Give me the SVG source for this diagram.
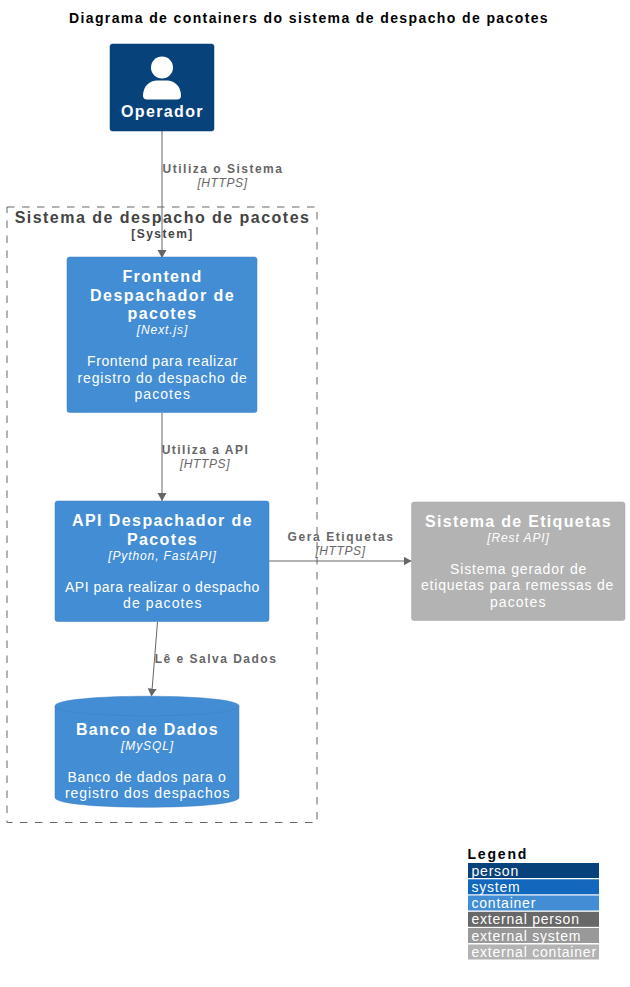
<svg xmlns="http://www.w3.org/2000/svg" width="630" height="987" viewBox="0 0 630 987">
<style>
text{font-family:"Liberation Sans",Arial,sans-serif;text-anchor:middle}
.title{font-size:14px;font-weight:700;fill:#000;letter-spacing:1.39px}
.nt{font-size:16px;font-weight:700;fill:#fff;letter-spacing:1.35px}
.nd{font-size:14px;fill:#fff;letter-spacing:.6px}
.nk{font-size:12px;font-style:italic;fill:#fff;letter-spacing:.9px}
.el{font-size:12px;font-weight:700;fill:#666;letter-spacing:1.5px}
.ek{font-size:12px;font-style:italic;fill:#666;letter-spacing:.6px}
.lg{font-size:14px;fill:#fff;letter-spacing:.78px;text-anchor:start}
.box{stroke:#3c7fc0;stroke-width:.5}
.edge{fill:none;stroke:#666;stroke-width:1}
</style>
<defs><marker id="a" markerUnits="userSpaceOnUse" markerWidth="9" markerHeight="10" refX="8" refY="4.5" orient="auto"><path d="M0 0L8 4.5L0 9z" fill="#666"/></marker></defs>
<text class="title" x="309" y="23">Diagrama de containers do sistema de despacho de pacotes</text>
<g id="boundary">
<rect x="7" y="207" width="310" height="615.500" fill="none" stroke="#666" stroke-width="1" stroke-dasharray="7.500 7.500"/>
<text x="162.500" y="223" style="font-size:16px;font-weight:700;fill:#444;letter-spacing:1.470px">Sistema de despacho de pacotes</text>
<text x="162.500" y="238" style="font-size:12px;font-weight:700;fill:#444;letter-spacing:1.500px">[System]</text>
</g>
<g id="connectors">
<path class="edge" d="M162 131V258" marker-end="url(#a)"/>
<text class="el" x="223" y="173">Utiliza o Sistema</text>
<text class="ek" x="222.500" y="187">[HTTPS]</text>
<path class="edge" d="M162 413V501" marker-end="url(#a)"/>
<text class="el" x="205.500" y="454">Utiliza a API</text>
<text class="ek" x="205" y="468">[HTTPS]</text>
<path class="edge" d="M269 561H411.500" marker-end="url(#a)"/>
<text class="el" x="341" y="541" textLength="107">Gera Etiquetas</text>
<text class="ek" x="340.500" y="555">[HTTPS]</text>
<path class="edge" d="M157.500 622L151.500 696.500" marker-end="url(#a)"/>
<text class="el" x="216" y="663">Lê e Salva Dados</text>
</g>
<g id="operador">
<rect x="110" y="44" width="104" height="87" rx="2.500" fill="#08427b" stroke="#073b6f" stroke-width=".5"/>
<circle cx="162" cy="67.500" r="11" fill="#fff"/>
<path d="M143 95.500C143 86 150 80.500 157 80.500H167C174 80.500 181 86 181 95.500Q181 99.500 177 99.500H147Q143 99.500 143 95.500Z" fill="#fff"/>
<text class="nt" x="162.500" y="117">Operador</text>
</g>
<g id="frontend">
<rect class="box" x="67" y="257" width="190" height="155.500" rx="2.500" fill="#438dd5"/>
<text class="nt" x="162.500" y="282">Frontend</text>
<text class="nt" x="162.500" y="301" textLength="145">Despachador de</text>
<text class="nt" x="162.500" y="319">pacotes</text>
<text class="nk" x="162.500" y="334">[Next.js]</text>
<text class="nd" x="162.500" y="366" textLength="151">Frontend para realizar</text>
<text class="nd" x="162.500" y="383" textLength="170">registro do despacho de</text>
<text class="nd" x="162.500" y="399" textLength="56">pacotes</text>
</g>
<g id="api">
<rect class="box" x="55" y="501" width="214" height="120.500" rx="2.500" fill="#438dd5"/>
<text class="nt" x="162.500" y="526" textLength="181">API Despachador de</text>
<text class="nt" x="162.500" y="545">Pacotes</text>
<text class="nk" x="162.500" y="560">[Python, FastAPI]</text>
<text class="nd" x="162.500" y="592" textLength="195">API para realizar o despacho</text>
<text class="nd" x="162.500" y="608" textLength="79">de pacotes</text>
</g>
<g id="banco">
<path class="box" d="M55 706C55 693 239 693 239 706V797.500C239 810.500 55 810.500 55 797.500Z" fill="#438dd5"/>
<path d="M55 706C55 719 239 719 239 706" fill="none" stroke="#3c7fc0" stroke-width=".5"/>
<text class="nt" x="147.500" y="735" textLength="143">Banco de Dados</text>
<text class="nk" x="147.500" y="750">[MySQL]</text>
<text class="nd" x="147" y="782" textLength="159">Banco de dados para o</text>
<text class="nd" x="147.500" y="798" textLength="165">registro dos despachos</text>
</g>
<g id="etiquetas">
<rect x="411.500" y="502" width="213.500" height="118.500" rx="2.500" fill="#b3b3b3" stroke="#a6a6a6" stroke-width=".5"/>
<text class="nt" x="518.500" y="527" textLength="187">Sistema de Etiquetas</text>
<text class="nk" x="518.500" y="542">[Rest API]</text>
<text class="nd" x="518.500" y="574" textLength="137">Sistema gerador de</text>
<text class="nd" x="517.500" y="590" textLength="193">etiquetas para remessas de</text>
<text class="nd" x="518" y="607" textLength="56">pacotes</text>
</g>
<g id="legend">
<text x="467.500" y="859" style="font-size:14px;font-weight:700;fill:#000;letter-spacing:1.800px;text-anchor:start">Legend</text>
<rect x="468" y="863" width="131" height="15" fill="#08427b"/>
<rect x="468" y="879.300" width="131" height="15" fill="#1168bd"/>
<rect x="468" y="895.500" width="131" height="15" fill="#438dd5"/>
<rect x="468" y="911.800" width="131" height="15" fill="#686868"/>
<rect x="468" y="928" width="131" height="15" fill="#999"/>
<rect x="468" y="944.500" width="131" height="15" fill="#b3b3b3"/>
<text class="lg" x="471.500" y="876">person</text>
<text class="lg" x="471.500" y="892">system</text>
<text class="lg" x="471.500" y="908">container</text>
<text class="lg" x="471.500" y="924">external person</text>
<text class="lg" x="471.500" y="941">external system</text>
<text class="lg" x="471.500" y="957">external container</text>
</g>
</svg>
